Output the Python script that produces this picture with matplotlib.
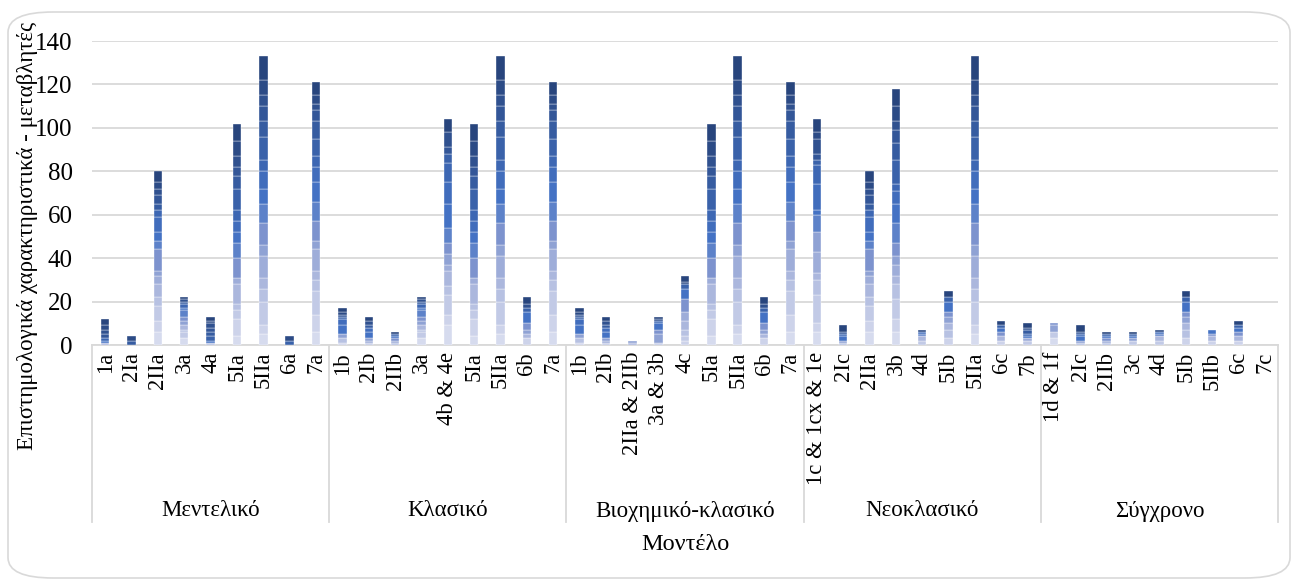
import matplotlib
matplotlib.use("Agg")
import matplotlib.pyplot as plt
from matplotlib.patches import FancyBboxPatch
import matplotlib.transforms as mtransforms
import numpy as np

plt.rcParams['font.family'] = ['Liberation Serif', 'DejaVu Serif']

# Model groups and the characteristic codes shown under each
groups = ['Μεντελικό', 'Κλασικό', 'Βιοχημικό-κλασικό', 'Νεοκλασικό', 'Σύγχρονο']
codes_mendel = ['1a', '2Ia', '2IIa', '3a', '4a', '5Ia', '5IIa', '6a', '7a']
codes_classic = ['1b', '2Ib', '2IIb', '3a', '4b & 4e', '5Ia', '5IIa', '6b', '7a']
codes_biochem = ['1b', '2Ib', '2IIa & 2IIb', '3a & 3b', '4c', '5Ia', '5IIa', '6b', '7a']
codes_neo = ['1c & 1cx & 1e', '2Ic', '2IIa', '3b', '4d', '5Ib', '5IIa', '6c', '7b']
codes_modern = ['1d & 1f', '2Ic', '2IIb', '3c', '4d', '5Ib', '5IIb', '6c', '7c']

# Stacked components (18 series, bottom to top) for every characteristic code
v_1a = [0, 0, 0, 0, 1, 0, 0, 0, 0, 1, 0, 1, 0, 0, 2, 2, 2, 3]
v_2Ia = [0, 0, 0, 0, 0, 0, 0, 0, 0, 0, 0, 0, 0, 2, 0, 0, 2, 0]
v_2IIa = [6, 5, 7, 4, 6, 4, 2, 10, 4, 4, 7, 3, 0, 3, 4, 3, 3, 5]
v_3a = [3, 0, 3, 1, 2, 0, 2, 2, 3, 1, 0, 2, 0, 1, 0, 1, 0, 1]
v_4a = [0, 0, 0, 1, 0, 0, 0, 0, 0, 1, 0, 0, 2, 2, 2, 2, 1, 2]
v_5Ia = [4, 8, 4, 3, 9, 3, 0, 9, 7, 5, 5, 5, 10, 6, 4, 5, 7, 8]
v_5IIa = [5, 4, 11, 6, 5, 10, 5, 10, 9, 7, 8, 5, 11, 7, 7, 5, 7, 11]
v_6a = [0, 0, 0, 0, 0, 0, 0, 0, 0, 0, 0, 0, 2, 0, 0, 0, 2, 0]
v_7a = [6, 8, 11, 5, 4, 10, 4, 9, 9, 9, 7, 5, 8, 8, 5, 3, 4, 6]
v_1b = [0, 1, 0, 2, 0, 0, 2, 0, 0, 4, 3, 0, 1, 0, 1, 0, 1, 2]
v_2Ib = [0, 0, 1, 0, 0, 1, 1, 0, 0, 3, 2, 0, 0, 1, 0, 2, 0, 2]
v_2IIb = [0, 0, 0, 1, 0, 1, 0, 1, 0, 1, 0, 0, 1, 0, 0, 0, 0, 1]
v_4b_4e = [9, 5, 9, 4, 7, 3, 5, 5, 7, 11, 10, 9, 4, 0, 3, 7, 0, 6]
v_6b = [0, 3, 0, 0, 2, 0, 2, 3, 0, 5, 0, 0, 2, 0, 0, 2, 0, 3]
v_2IIa_2IIb = [0, 0, 0, 0, 1, 0, 1, 0, 0, 0, 0, 0, 0, 0, 0, 0, 0, 0]
v_3a_3b = [0, 0, 1, 0, 0, 0, 4, 2, 0, 3, 0, 1, 0, 0, 0, 1, 0, 1]
v_4c = [0, 2, 2, 3, 4, 4, 0, 6, 0, 5, 0, 0, 2, 0, 0, 0, 1, 3]
v_1c_1cx_1e = [6, 4, 13, 7, 3, 10, 9, 0, 8, 2, 12, 9, 2, 0, 3, 7, 3, 6]
v_2Ic = [0, 0, 0, 1, 0, 0, 1, 0, 0, 2, 0, 1, 0, 0, 1, 0, 0, 3]
v_3b = [6, 6, 9, 7, 4, 5, 4, 6, 9, 9, 6, 3, 11, 8, 6, 4, 7, 8]
v_4d = [0, 0, 2, 0, 2, 0, 0, 0, 1, 0, 1, 0, 0, 0, 0, 0, 1, 0]
v_5Ib = [0, 3, 0, 4, 3, 0, 3, 2, 0, 5, 0, 0, 2, 0, 0, 0, 0, 3]
v_6c = [0, 2, 0, 0, 2, 0, 0, 2, 0, 2, 0, 0, 1, 0, 0, 0, 0, 2]
v_7b = [0, 0, 2, 0, 0, 1, 0, 0, 0, 1, 0, 1, 0, 2, 0, 1, 0, 2]
v_1d_1f = [3, 0, 3, 0, 0, 0, 3, 1, 0, 0, 0, 0, 0, 0, 0, 0, 0, 0]
v_3c = [0, 0, 2, 0, 0, 0, 1, 0, 0, 1, 0, 0, 1, 0, 0, 0, 0, 1]
v_5IIb = [0, 2, 0, 0, 2, 0, 0, 1, 0, 2, 0, 0, 0, 0, 0, 0, 0, 0]
v_7c = [0] * 18

profiles = {
    '1a': v_1a, '2Ia': v_2Ia, '2IIa': v_2IIa, '3a': v_3a, '4a': v_4a,
    '5Ia': v_5Ia, '5IIa': v_5IIa, '6a': v_6a, '7a': v_7a,
    '1b': v_1b, '2Ib': v_2Ib, '2IIb': v_2IIb, '4b & 4e': v_4b_4e, '6b': v_6b,
    '2IIa & 2IIb': v_2IIa_2IIb, '3a & 3b': v_3a_3b, '4c': v_4c,
    '1c & 1cx & 1e': v_1c_1cx_1e, '2Ic': v_2Ic, '3b': v_3b, '4d': v_4d,
    '5Ib': v_5Ib, '6c': v_6c, '7b': v_7b,
    '1d & 1f': v_1d_1f, '3c': v_3c, '5IIb': v_5IIb, '7c': v_7c,
}

series_colors = ['#d6dbee', '#cdd3ea', '#c2cae6', '#b7c1e2', '#abb7dd', '#9eadd9',
                 '#8fa2d4', '#7d93ce', '#5d82c9', '#4472c4', '#416dbc', '#3d67b3',
                 '#3a62aa', '#365ca1', '#335698', '#30518f', '#2c4b86', '#28457d']

group_codes = [codes_mendel, codes_classic, codes_biochem, codes_neo, codes_modern]
all_codes = [c for g in group_codes for c in g]
n = len(all_codes)
x = np.arange(n)
matrix = np.array([profiles[c] for c in all_codes], dtype=float)

W, H = 1293, 581
fig = plt.figure(figsize=(W / 100, H / 100), dpi=100)

# Rounded chart-area frame
frame = FancyBboxPatch((8 / W, 3 / H), (1290 - 8) / W, (578 - 12) / H,
                       boxstyle="round,pad=0,rounding_size=0.035",
                       transform=fig.transFigure, facecolor='none',
                       edgecolor='#d9d9d9', linewidth=1.2, zorder=-1)
fig.patches.append(frame)

ax = fig.add_axes([92 / W, 1 - 345 / H, (1278 - 92) / W, (345 - 41) / H])
ax.set_facecolor('none')

bottom = np.zeros(n)
for s in range(matrix.shape[1]):
    h = matrix[:, s]
    m = h > 0
    ax.bar(x[m], h[m], bottom=bottom[m], width=0.32, color=series_colors[s],
           edgecolor=(1, 1, 1, 0.75), linewidth=0.35, zorder=3)
    bottom += h

ax.set_xlim(-0.5, n - 0.5)
ax.set_ylim(0, 140)
ax.set_yticks(np.arange(0, 141, 20))
ax.yaxis.grid(True, color='#d9d9d9', linewidth=1.3, zorder=0)
ax.set_axisbelow(True)
for side in ['left', 'right', 'top']:
    ax.spines[side].set_visible(False)
ax.spines['bottom'].set_color('#d9d9d9')
ax.spines['bottom'].set_linewidth(1.3)
ax.tick_params(axis='y', length=0, pad=14, labelsize=18)
ax.tick_params(axis='x', length=0, pad=5, labelsize=16.3)
ax.set_xticks(x)
ax.set_xticklabels(all_codes, rotation=90, va='top', ha='center')

# Group separators and group names under the category labels
trans = mtransforms.blended_transform_factory(ax.transData, ax.transAxes)
depth = -(522 - 345) / (345 - 41)
start = 0
for g, codes in zip(groups, group_codes):
    ax.plot([start - 0.5, start - 0.5], [0, depth], transform=trans,
            color='#d9d9d9', linewidth=1.3, clip_on=False)
    mid = start + (len(codes) - 1) / 2
    ax.text(mid, -(511 - 345) / (345 - 41), g, transform=trans,
            ha='center', va='center', fontsize=16.5)
    start += len(codes)
ax.plot([start - 0.5, start - 0.5], [0, depth], transform=trans,
        color='#d9d9d9', linewidth=1.3, clip_on=False)

fig.text((92 + 1278) / 2 / W, 1 - 545 / H, 'Μοντέλο', ha='center', va='center',
         fontsize=17.5)
fig.text(28 / W, 1 - 236 / H, 'Επιστημολογικά χαρακτηριστικά - μεταβλητές',
         rotation=90, ha='center', va='center', fontsize=16.5)

fig.savefig('out.png', dpi=100)
